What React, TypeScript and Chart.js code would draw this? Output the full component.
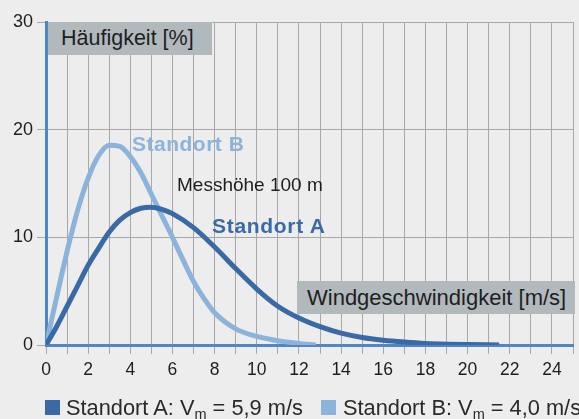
import React, { useEffect, useRef } from "react";
import { Chart, registerables } from "chart.js";

Chart.register(...registerables);

// ---- data ----
const xTickLabels = [0, 2, 4, 6, 8, 10, 12, 14, 16, 18, 20, 22, 24];
const yTickLabels = [0, 10, 20, 30];

const standortAX = [0, 0.5, 1, 1.5, 2, 2.5, 3, 3.5, 4, 4.5, 5, 5.5, 6, 7, 8, 9, 10, 11, 12, 13, 14, 15, 16, 17, 18, 19, 20, 21.5];
const standortAY = [0, 1.7, 3.6, 5.5, 7.4, 9.0, 10.5, 11.6, 12.3, 12.7, 12.8, 12.6, 12.2, 10.9, 9.1, 7.1, 5.2, 3.6, 2.5, 1.7, 1.1, 0.7, 0.45, 0.28, 0.15, 0.08, 0.04, 0];

const standortBX = [0, 0.5, 1, 1.5, 2, 2.5, 3, 3.5, 4, 4.5, 5, 5.5, 6, 6.5, 7, 7.5, 8, 9, 10, 11, 12, 12.8];
const standortBY = [0, 4.4, 8.7, 12.5, 15.5, 17.6, 18.55, 18.45, 17.5, 16.0, 14.0, 12.0, 10.0, 7.9, 5.9, 4.3, 3.0, 1.5, 0.8, 0.4, 0.15, 0];

const seriesNames = ["Standort A", "Standort B"];
const meanSpeeds = ["5,9", "4,0"];
const yAxisTitle = "Häufigkeit [%]";
const xAxisTitle = "Windgeschwindigkeit [m/s]";
const heightNote = "Messhöhe 100 m";

// ---- styles ----
const FONT = '"Liberation Sans", Arial, sans-serif';
const BG = "#ededed";
const DARK = "#3a6aa6";
const LIGHT = "#8cb3da";
const AXIS = "#4f86c6";
const GRID = "#a8a8a8";
const BOX = "#b2b9bd";
const TEXT = "#1e1e1e";

export default function App() {
  const canvasRef = useRef<HTMLCanvasElement | null>(null);

  useEffect(() => {
    const canvas = canvasRef.current;
    if (!canvas) return;
    const chart = new Chart(canvas, {
      type: "line",
      data: {
        datasets: [
          {
            label: seriesNames[0],
            data: standortAX.map((x, i) => ({ x, y: standortAY[i] })),
            borderColor: DARK,
            backgroundColor: DARK,
            borderWidth: 5,
            pointRadius: 0,
            cubicInterpolationMode: "monotone",
            fill: false,
            borderJoinStyle: "round",
          },
          {
            label: seriesNames[1],
            data: standortBX.map((x, i) => ({ x, y: standortBY[i] })),
            borderColor: LIGHT,
            backgroundColor: LIGHT,
            borderWidth: 5,
            pointRadius: 0,
            cubicInterpolationMode: "monotone",
            fill: false,
            borderJoinStyle: "round",
          },
        ],
      },
      options: {
        animation: false,
        responsive: false,
        devicePixelRatio: 1,
        layout: { padding: { top: 22, right: 5, left: 0, bottom: 0 } },
        plugins: { legend: { display: false }, tooltip: { enabled: false } },
        scales: {
          x: {
            type: "linear",
            min: 0,
            max: 25,
            afterFit: (s: any) => {
              s.height = 74;
            },
            grid: { color: GRID, lineWidth: 1, drawTicks: true, tickLength: 9, tickColor: GRID },
            border: { color: AXIS, width: 3 },
            ticks: {
              stepSize: 1,
              autoSkip: false,
              maxRotation: 0,
              padding: 6,
              color: TEXT,
              font: { family: FONT, size: 17.5 },
              callback: (v: any) => (xTickLabels.includes(Number(v)) ? String(v) : ""),
            },
          },
          y: {
            type: "linear",
            min: 0,
            max: 30,
            afterFit: (s: any) => {
              s.width = 46;
            },
            grid: { color: GRID, lineWidth: 1, drawTicks: true, tickLength: 9, tickColor: GRID },
            border: { color: AXIS, width: 3 },
            ticks: {
              stepSize: 10,
              padding: 4,
              color: TEXT,
              font: { family: FONT, size: 18 },
              callback: (v: any) => (yTickLabels.includes(Number(v)) ? String(v) : ""),
            },
          },
        },
      },
    } as any);
    return () => chart.destroy();
  }, []);

  const abs = (o: React.CSSProperties): React.CSSProperties => ({ position: "absolute", whiteSpace: "nowrap", ...o });

  const legendItem = (i: number, sqLeft: number, textLeft: number, color: string) => (
    <>
      <div style={abs({ left: sqLeft, top: 400, width: 15, height: 15, background: color })} />
      <div style={abs({ left: textLeft, top: 396.5, fontSize: 21.8, lineHeight: "21.8px", color: "#2a2a2a" })}>
        {seriesNames[i]}: V<sub style={{ fontSize: 14.5, verticalAlign: "-4px", lineHeight: 0 }}>m</sub> = {meanSpeeds[i]} m/s
      </div>
    </>
  );

  return (
    <div style={{ position: "fixed", left: 0, top: 0, width: 579, height: 419, background: BG, overflow: "hidden", fontFamily: FONT }}>
      <canvas ref={canvasRef} width={579} height={419} style={{ position: "absolute", left: 0, top: 0, width: 579, height: 419 }} />
      <div style={abs({ left: 48, top: 22, width: 164, height: 33, background: BOX, color: TEXT, fontSize: 21.5, lineHeight: "33px", paddingLeft: 13, boxSizing: "border-box" })}>
        {yAxisTitle}
      </div>
      <div style={abs({ left: 297, top: 281, width: 278, height: 33, background: BOX, color: TEXT, fontSize: 22, lineHeight: "33px", paddingLeft: 10, boxSizing: "border-box" })}>
        {xAxisTitle}
      </div>
      <div style={abs({ left: 132, top: 133, fontSize: 21, lineHeight: "21px", fontWeight: "bold", color: LIGHT, letterSpacing: 0.5 })}>
        {seriesNames[1]}
      </div>
      <div style={abs({ left: 177, top: 174.8, fontSize: 19, lineHeight: "19px", color: TEXT })}>{heightNote}</div>
      <div style={abs({ left: 212, top: 214.5, fontSize: 21, lineHeight: "21px", fontWeight: "bold", color: DARK, letterSpacing: 0.7 })}>
        {seriesNames[0]}
      </div>
      {legendItem(0, 45, 66, DARK)}
      {legendItem(1, 321, 343, LIGHT)}
    </div>
  );
}
